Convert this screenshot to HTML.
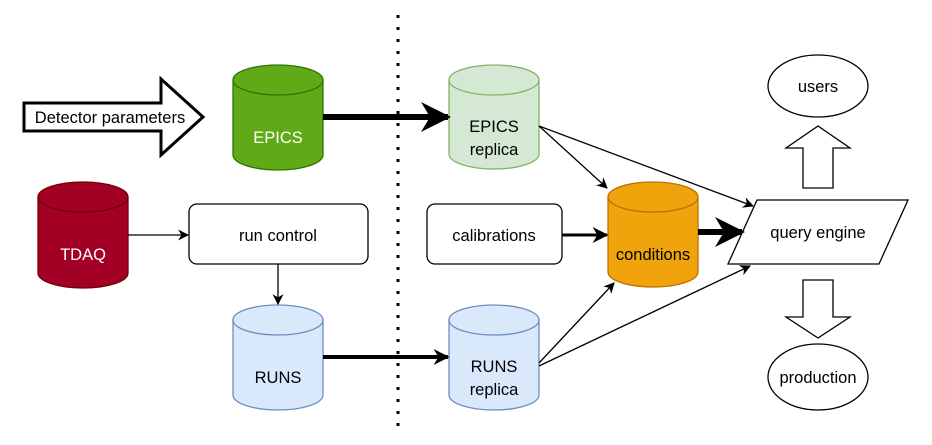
<!DOCTYPE html>
<html><head><meta charset="utf-8"><style>body{margin:0;background:#fff}</style></head><body>
<svg width="932" height="440" xmlns="http://www.w3.org/2000/svg" font-family="Liberation Sans, Arial, sans-serif" font-size="16.5">
<defs>
<marker id="a" viewBox="0 0 10 10" refX="9" refY="5" markerWidth="11" markerHeight="11" markerUnits="userSpaceOnUse" orient="auto"><path d="M0,0 L10,5 L0,10 L3,5 Z" fill="#000"/></marker>
<marker id="b" viewBox="0 0 10 10" refX="9" refY="5" markerWidth="16" markerHeight="16" markerUnits="userSpaceOnUse" orient="auto"><path d="M0,0 L10,5 L0,10 L3,5 Z" fill="#000"/></marker>
<marker id="c" viewBox="0 0 10 10" refX="9" refY="5" markerWidth="30" markerHeight="30" markerUnits="userSpaceOnUse" orient="auto"><path d="M0,0 L10,5 L0,10 L3,5 Z" fill="#000"/></marker>
</defs>
<line x1="398" y1="15" x2="398" y2="428" stroke="#000" stroke-width="3" stroke-dasharray="3,9"/>
<path d="M24,103 H161 V79 L203,117 L161,155 V131 H24 Z" fill="#fff" stroke="#000" stroke-width="3"/>
<text x="110" y="123" text-anchor="middle">Detector parameters</text>
<g stroke-width="1.3">
<path d="M233,80 A45,15 0 0 1 323,80 V155 A45,15 0 0 1 233,155 Z" fill="#60a917" stroke="#2d7600"/>
<path d="M233,80 A45,15 0 0 0 323,80" fill="none" stroke="#2d7600"/>
<path d="M38,197 A45,15 0 0 1 128,197 V273 A45,15 0 0 1 38,273 Z" fill="#a20025" stroke="#6f0000"/>
<path d="M38,197 A45,15 0 0 0 128,197" fill="none" stroke="#6f0000"/>
<path d="M233,320 A45,15 0 0 1 323,320 V395 A45,15 0 0 1 233,395 Z" fill="#dae8fc" stroke="#6c8ebf"/>
<path d="M233,320 A45,15 0 0 0 323,320" fill="none" stroke="#6c8ebf"/>
<path d="M449,80 A45,15 0 0 1 539,80 V154 A45,15 0 0 1 449,154 Z" fill="#d5e8d4" stroke="#82b366"/>
<path d="M449,80 A45,15 0 0 0 539,80" fill="none" stroke="#82b366"/>
<path d="M449,320 A45,15 0 0 1 539,320 V395 A45,15 0 0 1 449,395 Z" fill="#dae8fc" stroke="#6c8ebf"/>
<path d="M449,320 A45,15 0 0 0 539,320" fill="none" stroke="#6c8ebf"/>
<path d="M608,197 A45,15 0 0 1 698,197 V272 A45,15 0 0 1 608,272 Z" fill="#f0a30a" stroke="#bd7000"/>
<path d="M608,197 A45,15 0 0 0 698,197" fill="none" stroke="#bd7000"/>
</g>
<text x="278" y="143" text-anchor="middle" fill="#fff">EPICS</text>
<text x="83" y="260" text-anchor="middle" fill="#fff">TDAQ</text>
<text x="278" y="383" text-anchor="middle">RUNS</text>
<text x="494" y="132" text-anchor="middle">EPICS</text>
<text x="494" y="155" text-anchor="middle">replica</text>
<text x="494" y="372" text-anchor="middle">RUNS</text>
<text x="494" y="395" text-anchor="middle">replica</text>
<text x="653" y="260" text-anchor="middle">conditions</text>
<rect x="189" y="204" width="179" height="60" rx="8" fill="#fff" stroke="#000" stroke-width="1.3"/>
<text x="278" y="241" text-anchor="middle">run control</text>
<rect x="427" y="204" width="135" height="60" rx="8" fill="#fff" stroke="#000" stroke-width="1.3"/>
<text x="494" y="241" text-anchor="middle">calibrations</text>
<path d="M757,200 H908 L879,264 H728 Z" fill="#fff" stroke="#000" stroke-width="1.3"/>
<text x="818" y="238" text-anchor="middle">query engine</text>
<ellipse cx="818" cy="86" rx="50" ry="31" fill="#fff" stroke="#000" stroke-width="1.3"/>
<text x="818" y="92" text-anchor="middle">users</text>
<ellipse cx="818" cy="377" rx="50" ry="33" fill="#fff" stroke="#000" stroke-width="1.3"/>
<text x="818" y="383" text-anchor="middle">production</text>
<path d="M818,126 L850,148 H833 V188 H803 V148 H786 Z" fill="#fff" stroke="#000" stroke-width="1.3"/>
<path d="M803,280 H833 V317 H850 L818,338 L786,317 H803 Z" fill="#fff" stroke="#000" stroke-width="1.3"/>
<g stroke="#000" fill="none">
<line x1="323" y1="117" x2="448" y2="117" stroke-width="6" marker-end="url(#c)"/>
<line x1="323" y1="357" x2="448" y2="357" stroke-width="4" marker-end="url(#b)"/>
<line x1="128" y1="235" x2="188" y2="235" stroke-width="1.3" marker-end="url(#a)"/>
<line x1="278" y1="264" x2="278" y2="304" stroke-width="1.3" marker-end="url(#a)"/>
<line x1="562" y1="235" x2="607" y2="235" stroke-width="3" marker-end="url(#b)"/>
<line x1="698" y1="232" x2="742" y2="232" stroke-width="6" marker-end="url(#c)"/>
<line x1="539" y1="126" x2="607" y2="188" stroke-width="1.3" marker-end="url(#a)"/>
<line x1="539" y1="126" x2="753" y2="206" stroke-width="1.3" marker-end="url(#a)"/>
<line x1="539" y1="363" x2="614" y2="283" stroke-width="1.3" marker-end="url(#a)"/>
<line x1="539" y1="366" x2="750" y2="266" stroke-width="1.3" marker-end="url(#a)"/>
</g>
</svg>
</body></html>
